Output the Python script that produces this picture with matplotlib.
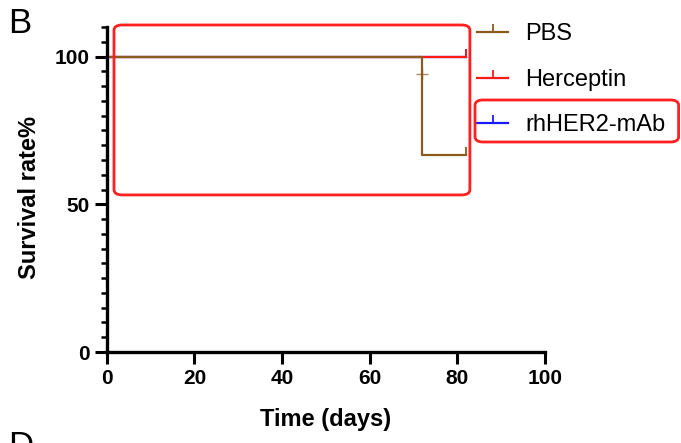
import matplotlib.pyplot as plt
from matplotlib.lines import Line2D
from matplotlib.patches import FancyBboxPatch
from matplotlib.ticker import MultipleLocator

plt.rcParams['font.family'] = ['Liberation Sans', 'DejaVu Sans']

# Kaplan-Meier steps (days, survival %)
groups = ['PBS', 'Herceptin', 'rhHER2-mAb']
colors = ['#8B5A1E', '#FF1A1A', '#1A1AFF']
times = {
    'PBS': [0, 72, 82],
    'Herceptin': [0, 82],
    'rhHER2-mAb': [0, 82],
}
surv = {
    'PBS': [100, 66.7, 66.7],
    'Herceptin': [100, 100],
    'rhHER2-mAb': [100, 100],
}
# censored observations
censor_t = {'PBS': [82], 'Herceptin': [82], 'rhHER2-mAb': [82]}
censor_s = {'PBS': [66.7], 'Herceptin': [100], 'rhHER2-mAb': [100]}
extra_mark_t = [72]
extra_mark_s = [94]

fig = plt.figure(figsize=(6.81, 4.43), dpi=100)
ax = fig.add_axes([0.157, 0.2054, 0.643, 0.7336])

# draw bottom-up so PBS sits on top
for g, c in reversed(list(zip(groups, colors))):
    ax.step(times[g], surv[g], where='post', color=c, lw=1.6, clip_on=False)
    ax.plot(censor_t[g], censor_s[g], ls='none', marker=2, ms=6, mew=1.3,
            color=c, clip_on=False)
ax.plot(extra_mark_t, extra_mark_s, ls='none', marker='+', ms=8, mew=1.0,
        color=colors[0], alpha=0.7)

ax.set_xlim(0, 100)
ax.set_ylim(0, 110)
ax.set_xticks([0, 20, 40, 60, 80, 100])
ax.set_yticks([0, 50, 100])
ax.yaxis.set_minor_locator(MultipleLocator(5))

for s in ['top', 'right']:
    ax.spines[s].set_visible(False)
for s in ['left', 'bottom']:
    ax.spines[s].set_linewidth(2.4)
ax.tick_params(axis='both', which='major', length=8.5, width=2.2,
               labelsize=15, pad=4)
ax.tick_params(axis='y', which='minor', length=4.5, width=1.8)
for lab in ax.get_xticklabels() + ax.get_yticklabels():
    lab.set_fontweight('bold')

ax.set_xlabel('Time (days)', fontsize=17, fontweight='bold', labelpad=14)
ax.set_ylabel('Survival rate%', fontsize=17, fontweight='bold')
ax.yaxis.set_label_coords(-0.15, 0.475)

handles = [Line2D([0], [0], color=c, lw=1.6, marker=2, ms=6, mew=1.3)
           for c in colors]
ax.legend(handles, groups, loc='upper left', bbox_to_anchor=(0.797, 1.077),
          frameon=False, fontsize=17, handlelength=1.3, handletextpad=0.75,
          labelspacing=1.0, numpoints=1)

# red highlight boxes
box1 = FancyBboxPatch((0.1674, 0.560), 0.5226, 0.3836,
                      boxstyle='round,pad=0,rounding_size=0.012',
                      transform=fig.transFigure, fill=False,
                      ec='#FF2020', lw=2.0)
box2 = FancyBboxPatch((0.6975, 0.6795), 0.299, 0.0948,
                      boxstyle='round,pad=0,rounding_size=0.012',
                      transform=fig.transFigure, fill=False,
                      ec='#FF2020', lw=2.0)
fig.patches.extend([box1, box2])

fig.text(0.012, 0.985, 'B', fontsize=25, va='top', ha='left')
fig.text(0.012, 0.03, 'D', fontsize=25, va='top', ha='left')

fig.savefig('out.png', dpi=100)
